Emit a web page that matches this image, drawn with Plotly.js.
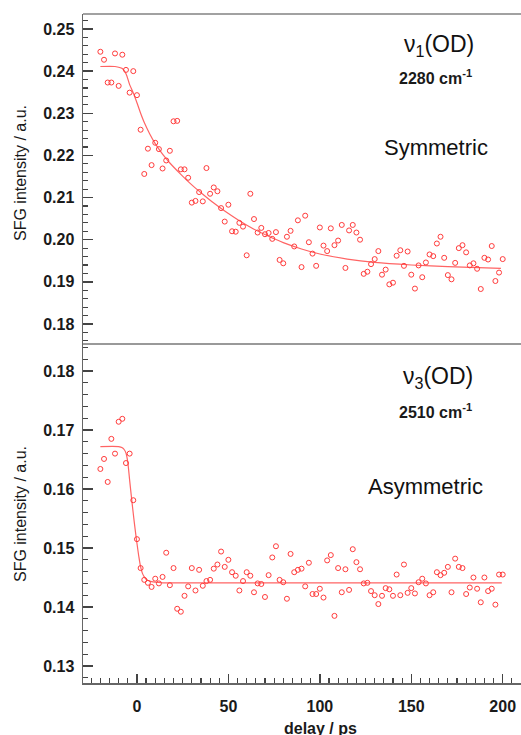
<!DOCTYPE html>
<html>
<head>
<meta charset="utf-8">
<script src="https://cdn.plot.ly/plotly-3.0.1.min.js"></script>
<style>html,body{margin:0;padding:0;background:#fff;}#chart{width:521px;height:735px;}</style>
</head>
<body>
<div id="chart"></div>
<script>
// delay (ps), 2-ps steps
const delay = [-20,-18,-16,-14,-12,-10,-8,-6,-4,-2,0,2,4,6,8,10,12,14,16,18,20,22,24,26,28,30,32,34,36,38,40,42,44,46,48,50,52,54,56,58,60,62,64,66,68,70,72,74,76,78,80,82,84,86,88,90,92,94,96,98,100,102,104,106,108,110,112,114,116,118,120,122,124,126,128,130,132,134,136,138,140,142,144,146,148,150,152,154,156,158,160,162,164,166,168,170,172,174,176,178,180,182,184,186,188,190,192,194,196,198,200];

// nu1(OD) 2280 cm-1, symmetric
const symData = [0.2446,0.2427,0.2373,0.2373,0.2442,0.2365,0.2439,0.2403,0.2349,0.2400,0.2343,0.2261,0.2156,0.2216,0.2177,0.2230,0.2215,0.2169,0.2188,0.2211,0.2281,0.2282,0.2167,0.2167,0.2147,0.2088,0.2092,0.2113,0.2091,0.2170,0.2109,0.2124,0.2115,0.2075,0.2043,0.2083,0.2020,0.2019,0.2040,0.2031,0.1963,0.2109,0.2049,0.2017,0.2028,0.2013,0.2016,0.2002,0.2018,0.1952,0.1944,0.2007,0.2021,0.1984,0.2046,0.1935,0.2057,0.1994,0.1967,0.1938,0.2029,0.1986,0.1973,0.2027,0.1987,0.1998,0.2035,0.1933,0.2022,0.2035,0.2017,0.2000,0.1919,0.1924,0.1942,0.1954,0.1973,0.1917,0.1929,0.1894,0.1898,0.1962,0.1975,0.1938,0.1972,0.1917,0.1884,0.1939,0.1911,0.1946,0.1965,0.1961,0.1991,0.2007,0.1957,0.1916,0.1906,0.1945,0.1980,0.1987,0.1970,0.1939,0.1944,0.1931,0.1883,0.1957,0.1953,0.1985,0.1902,0.1922,0.1954];

// nu3(OD) 2510 cm-1, asymmetric
const asymData = [0.1634,0.1651,0.1612,0.1685,0.1660,0.1714,0.1719,0.1644,0.1660,0.1581,0.1515,0.1466,0.1446,0.1441,0.1434,0.1448,0.1440,0.1451,0.1492,0.1437,0.1466,0.1397,0.1392,0.1419,0.1435,0.1466,0.1428,0.1463,0.1436,0.1444,0.1446,0.1465,0.1472,0.1494,0.1468,0.1480,0.1459,0.1453,0.1428,0.1444,0.1459,0.1453,0.1425,0.1440,0.1439,0.1417,0.1454,0.1484,0.1503,0.1446,0.1442,0.1414,0.1490,0.1459,0.1463,0.1465,0.1435,0.1475,0.1422,0.1422,0.1431,0.1416,0.1479,0.1488,0.1385,0.1466,0.1425,0.1464,0.1429,0.1498,0.1476,0.1464,0.1440,0.1441,0.1427,0.1420,0.1405,0.1419,0.1432,0.1430,0.1419,0.1455,0.1420,0.1472,0.1424,0.1432,0.1423,0.1442,0.1448,0.1440,0.1420,0.1425,0.1459,0.1454,0.1458,0.1468,0.1425,0.1482,0.1468,0.1466,0.1422,0.1433,0.1450,0.1431,0.1408,0.1450,0.1427,0.1431,0.1404,0.1455,0.1455];

// fitted curves
const symFitDelay = [-20,-12,-8,-6,-4,-2,0,2,4,7,10,14,18,24,30,36,42,48,56,64,72,80,90,100,115,130,150,170,199];
const symFit = [0.2411,0.2411,0.2406,0.2394,0.2368,0.2348,0.2325,0.2300,0.2278,0.2251,0.2228,0.2203,0.2182,0.2155,0.2130,0.2108,0.2087,0.2068,0.2045,0.2025,0.2008,0.1993,0.1978,0.1966,0.1954,0.1946,0.1940,0.1936,0.1932];

const asymFitDelay = [-20,-10,-8,-7,-6,-5,-4,-3,-2,-1,0,1,2,3,4,5,6,8,10,14,20,50,100,150,199.5];
const asymFit = [0.1672,0.1672,0.1670,0.1667,0.1661,0.1645,0.1615,0.1586,0.1558,0.1532,0.1508,0.1486,0.1468,0.1457,0.1451,0.1447,0.1445,0.1443,0.1442,0.1441,0.1441,0.1441,0.1441,0.1441,0.1441];

const xTicks = [0,50,100,150,200];

const red = '#ff3b3b';
const fitRed = '#ff6464';
const FONT = 'Liberation Sans, Arial, sans-serif';

const mk = {symbol:'circle-open', size:5, color:red, line:{width:1, color:red}};

const traces = [
  {x:symFitDelay, y:symFit, xaxis:'x', yaxis:'y2', mode:'lines', line:{color:fitRed, width:1.2, shape:'spline', smoothing:0.8}, hoverinfo:'skip'},
  {x:delay, y:symData, xaxis:'x', yaxis:'y2', mode:'markers', marker:mk},
  {x:asymFitDelay, y:asymFit, xaxis:'x', yaxis:'y', mode:'lines', line:{color:fitRed, width:1.2, shape:'spline', smoothing:0.8}, hoverinfo:'skip'},
  {x:delay, y:asymData, xaxis:'x', yaxis:'y', mode:'markers', marker:mk}
];

const split = 339/669;
const tickFont = {family:FONT, size:16, color:'#1a1a1a', weight:'bold'};

const yCommon = {
  showline:true, linecolor:'#666', linewidth:1.5,
  ticks:'inside', ticklen:10, tickwidth:1.5, tickcolor:'#444',
  dtick:0.01, tickformat:'.2f', tickfont:tickFont,
  minor:{dtick:0.002, ticks:'inside', ticklen:5, tickwidth:1.2, tickcolor:'#444', showgrid:false},
  showgrid:false, zeroline:false, ticklabelstandoff:4, fixedrange:true
};

const layout = {
  width:521, height:735,
  margin:{l:83, r:0, t:14, b:52},
  paper_bgcolor:'#fff', plot_bgcolor:'#fff',
  showlegend:false,
  font:{family:FONT, color:'#1a1a1a'},
  xaxis:{
    range:[-29.5, 210], anchor:'y',
    showline:true, linecolor:'#666', linewidth:1.5,
    ticks:'inside', ticklen:9, tickwidth:1.5, tickcolor:'#444',
    tickvals:xTicks, tickfont:tickFont,
    minor:{dtick:5, tick0:0, ticks:'inside', ticklen:5, tickwidth:1.2, tickcolor:'#444', showgrid:false},
    showgrid:false, zeroline:false, ticklabelstandoff:8, fixedrange:true
  },
  yaxis: Object.assign({}, yCommon, {domain:[0, split], range:[0.12712, 0.18458], anchor:'x', tick0:0.13}),
  yaxis2: Object.assign({}, yCommon, {domain:[split, 1], range:[0.17525, 0.25356], anchor:'x', tick0:0.18}),
  shapes:[
    {type:'line', xref:'paper', yref:'paper', x0:0, x1:1, y0:1, y1:1, line:{color:'#444', width:1.2}},
    {type:'line', xref:'paper', yref:'paper', x0:0, x1:1, y0:split, y1:split, line:{color:'#999', width:2}}
  ],
  annotations:[
    {xref:'paper', yref:'paper', x:-0.1438, y:(683-173)/669, text:'SFG intensity / a.u.', textangle:-90, showarrow:false, xanchor:'center', yanchor:'middle', font:{family:FONT, size:16, color:'#1a1a1a'}},
    {xref:'paper', yref:'paper', x:-0.1438, y:(683-514)/669, text:'SFG intensity / a.u.', textangle:-90, showarrow:false, xanchor:'center', yanchor:'middle', font:{family:FONT, size:16, color:'#1a1a1a'}},
    {xref:'paper', yref:'paper', x:(320-83)/438, y:(683-728)/669, text:'<b>delay / ps</b>', showarrow:false, xanchor:'center', yanchor:'middle', font:{family:FONT, size:16, color:'#1a1a1a'}},
    {xref:'paper', yref:'paper', x:(439-83)/438, y:(683-46)/669, text:'ν<sub>1</sub>(OD)', showarrow:false, xanchor:'center', yanchor:'middle', font:{family:FONT, size:23, color:'#111'}},
    {xref:'paper', yref:'paper', x:(435-83)/438, y:(683-77)/669, text:'<b>2280 cm<sup>-1</sup></b>', showarrow:false, xanchor:'center', yanchor:'middle', font:{family:FONT, size:16, color:'#1a1a1a'}},
    {xref:'paper', yref:'paper', x:(436-83)/438, y:(683-147)/669, text:'Symmetric', showarrow:false, xanchor:'center', yanchor:'middle', font:{family:FONT, size:22, color:'#111'}},
    {xref:'paper', yref:'paper', x:(438-83)/438, y:(683-377)/669, text:'ν<sub>3</sub>(OD)', showarrow:false, xanchor:'center', yanchor:'middle', font:{family:FONT, size:23, color:'#111'}},
    {xref:'paper', yref:'paper', x:(435-83)/438, y:(683-411)/669, text:'<b>2510 cm<sup>-1</sup></b>', showarrow:false, xanchor:'center', yanchor:'middle', font:{family:FONT, size:16, color:'#1a1a1a'}},
    {xref:'paper', yref:'paper', x:(425-83)/438, y:(683-486)/669, text:'Asymmetric', showarrow:false, xanchor:'center', yanchor:'middle', font:{family:FONT, size:22, color:'#111'}}
  ]
};

Plotly.newPlot('chart', traces, layout, {displayModeBar:false, staticPlot:true});
</script>
</body>
</html>
